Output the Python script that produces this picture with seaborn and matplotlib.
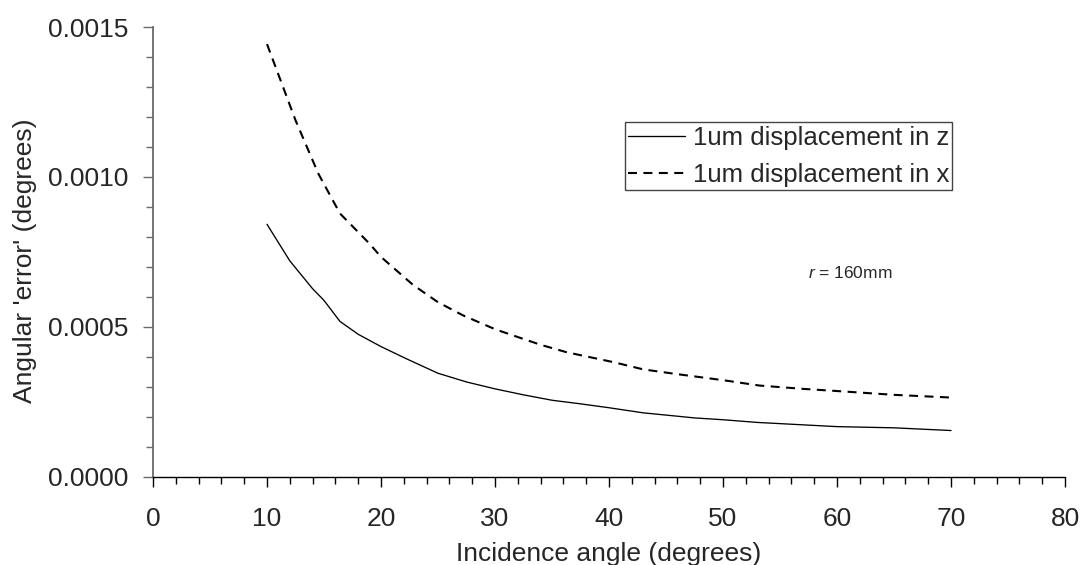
import matplotlib
matplotlib.use("Agg")
import matplotlib.pyplot as plt
from matplotlib.ticker import AutoMinorLocator, FormatStrFormatter, MultipleLocator
import numpy as np
import pandas as pd
import seaborn as sns

# Incidence angle (degrees)
angle_z = [10, 12, 14, 15, 16.4, 18, 20, 22.25, 25, 27.5, 30, 32.5, 35, 37.5, 40, 43, 46.2, 47.5,
           50, 53, 56, 60, 65, 70]
# Angular error for a 1 um displacement in z (degrees)
error_z = [0.000842, 0.000720, 0.000627, 0.000588, 0.000518, 0.000475, 0.000434, 0.000393,
           0.000345, 0.000316, 0.000293, 0.000273, 0.000255, 0.000243, 0.000230, 0.000213,
           0.000201, 0.000196, 0.000190, 0.000181, 0.000175, 0.000167, 0.000163, 0.000154]

angle_x = [10, 12.5, 14.5, 16.4, 19, 20, 22.8, 25, 27.2, 30, 31.6, 34, 36.3, 40.4, 43, 45.8,
           50, 53.2, 57, 60.3, 65, 70]
# Angular error for a 1 um displacement in x (degrees)
error_x = [0.001443, 0.001189, 0.001011, 0.000878, 0.000777, 0.000733, 0.000640, 0.000582,
           0.000538, 0.000492, 0.000471, 0.000440, 0.000415, 0.000382, 0.000358, 0.000343,
           0.000322, 0.000304, 0.000293, 0.000285, 0.000273, 0.000264]

series_labels = ["1um displacement in z", "1um displacement in x"]

df = pd.concat([
    pd.DataFrame({"angle": angle_z, "error": error_z, "series": series_labels[0]}),
    pd.DataFrame({"angle": angle_x, "error": error_x, "series": series_labels[1]}),
], ignore_index=True)

sns.set_theme(style="ticks")
plt.rcParams["font.family"] = ["Liberation Sans", "DejaVu Sans"]
plt.rcParams["mathtext.fontset"] = "custom"
plt.rcParams["mathtext.it"] = "Liberation Sans:italic"
plt.rcParams["mathtext.rm"] = "Liberation Sans"

fig = plt.figure(figsize=(10.82, 5.65), dpi=100)
ax = fig.add_axes([0.1414, 0.1563, 0.8429, 0.7959])

sns.lineplot(data=df[df.series == series_labels[0]], x="angle", y="error",
             color="black", linewidth=0.95, ax=ax, sort=False, estimator=None,
             label=series_labels[0])
sns.lineplot(data=df[df.series == series_labels[1]], x="angle", y="error",
             color="black", linewidth=1.5, dashes=False, ax=ax, sort=False, estimator=None,
             label=series_labels[1])
ax.lines[1].set_dashes((4.3, 3.1))

ax.set_xlim(0, 80)
ax.set_ylim(0, 0.0015)
ax.xaxis.set_major_locator(MultipleLocator(10))
ax.xaxis.set_minor_locator(AutoMinorLocator(5))
ax.yaxis.set_major_locator(MultipleLocator(0.0005))
ax.yaxis.set_minor_locator(AutoMinorLocator(5))
ax.yaxis.set_major_formatter(FormatStrFormatter("%.4f"))

for side in ("top", "right"):
    ax.spines[side].set_visible(False)
ax.spines["left"].set_color("#6a6a6a")
ax.spines["left"].set_linewidth(1.3)
ax.spines["bottom"].set_color("black")
ax.spines["bottom"].set_linewidth(1.0)

ax.tick_params(axis="x", which="major", length=7, width=1, color="black", pad=14.5, labelsize=19)
ax.tick_params(axis="x", which="minor", length=5, width=1, color="black")
ax.tick_params(axis="y", which="major", length=7, width=1, color="#6a6a6a", pad=10.5, labelsize=19)
ax.tick_params(axis="y", which="minor", length=5, width=1, color="#6a6a6a")

ax.set_xlabel("Incidence angle (degrees)", fontsize=19)
ax.set_ylabel("Angular 'error' (degrees)", fontsize=19)
ax.xaxis.set_label_coords(0.5, -0.1452)
ax.yaxis.set_label_coords(-0.127, 0.48)

ax.text(0.7468, 0.5168, r"$r$ = 160mm", transform=fig.transFigure, fontsize=12.5,
        ha="left", va="center")

handles, labels = ax.get_legend_handles_labels()
leg = ax.legend(handles, labels, loc="lower left", bbox_to_anchor=(0.5776, 0.6637),
                bbox_transform=fig.transFigure, fontsize=18.5, frameon=True, fancybox=False,
                framealpha=1, edgecolor="#444444", handlelength=2.2, handletextpad=0.32,
                borderpad=0.12, labelspacing=0.52, borderaxespad=0)
leg.get_frame().set_linewidth(1.0)

fig.savefig("out.png", dpi=100)
